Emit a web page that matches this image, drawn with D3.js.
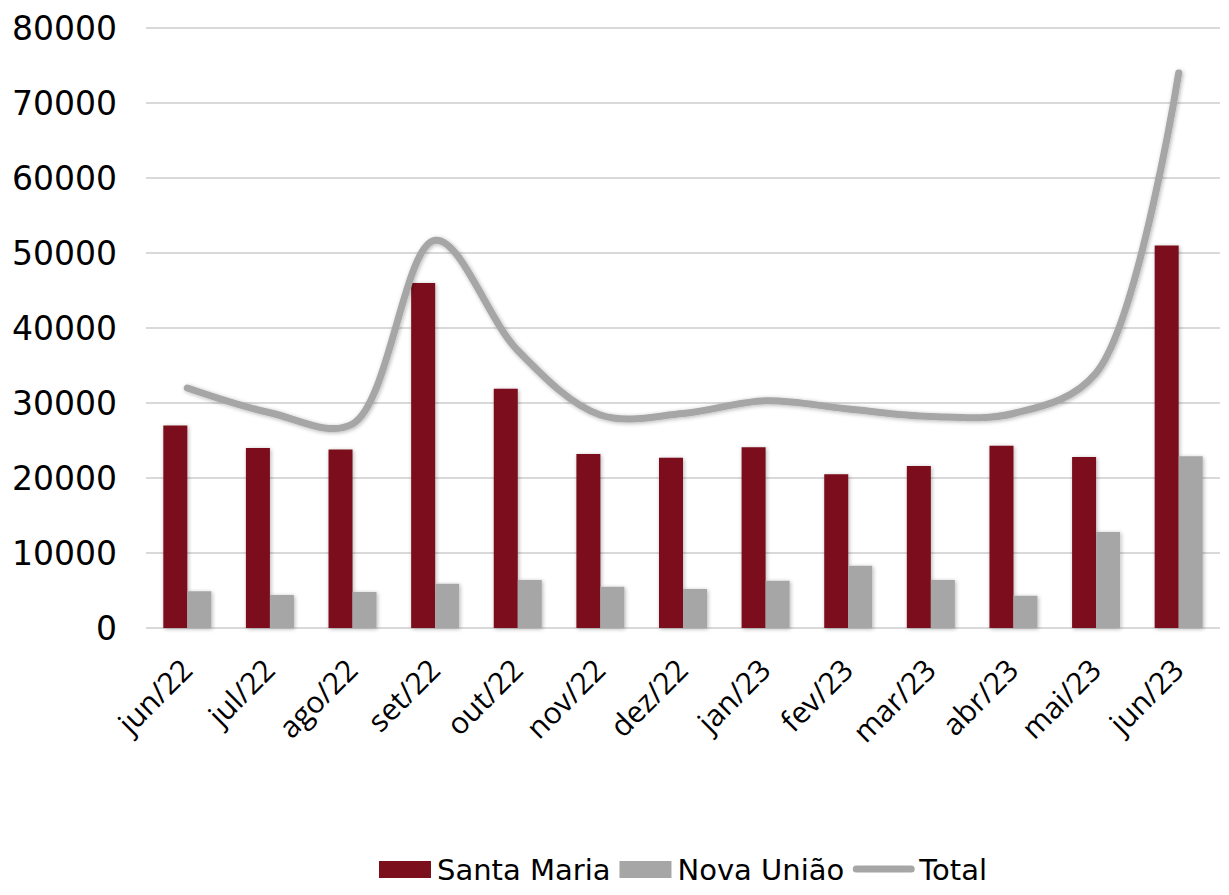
<!DOCTYPE html>
<html>
<head>
<meta charset="utf-8">
<script src="https://cdn.jsdelivr.net/npm/d3@7"></script>
<style>
  html, body { margin: 0; padding: 0; background: #fff; }
  svg { display: block; }
</style>
</head>
<body>
<svg id="chart" width="1229" height="895"></svg>
<script>
const categories = ["jun/22","jul/22","ago/22","set/22","out/22","nov/22","dez/22","jan/23","fev/23","mar/23","abr/23","mai/23","jun/23"];
const santaMaria = [27000, 24000, 23800, 46000, 31900, 23200, 22700, 24100, 20500, 21600, 24300, 22800, 51000];
const novaUniao  = [4900, 4400, 4800, 5900, 6400, 5500, 5200, 6300, 8300, 6400, 4300, 12800, 22900];
const total      = [32000, 28700, 27200, 51700, 37000, 28400, 28600, 30300, 29200, 28200, 28600, 34000, 74000];
const yTicks = [0, 10000, 20000, 30000, 40000, 50000, 60000, 70000, 80000];
const seriesNames = ["Santa Maria", "Nova União", "Total"];

(function () {
const colorRed = "#7B0F1C", colorGray = "#A6A6A6";
const svg = d3.select("#chart");
const pLeft = 146, pRight = 1220, pTop = 28, pBottom = 628;

const x = d3.scaleBand().domain(categories).range([pLeft, pRight]).paddingInner(0).paddingOuter(0);
const y = d3.scaleLinear().domain([0, 80000]).range([pBottom, pTop]);

const defs = svg.append("defs");
const f = defs.append("filter").attr("id", "shadow").attr("x", "-30%").attr("y", "-30%").attr("width", "160%").attr("height", "160%");
f.append("feGaussianBlur").attr("in", "SourceAlpha").attr("stdDeviation", 2).attr("result", "b");
f.append("feOffset").attr("in", "b").attr("dx", 1).attr("dy", 1).attr("result", "o");
f.append("feComponentTransfer").attr("in", "o").attr("result", "t")
  .append("feFuncA").attr("type", "linear").attr("slope", 0.3);
const m = f.append("feMerge");
m.append("feMergeNode").attr("in", "t");
m.append("feMergeNode").attr("in", "SourceGraphic");

// gridlines
svg.append("g").selectAll("line").data(yTicks).join("line")
  .attr("x1", pLeft).attr("x2", pRight)
  .attr("y1", d => y(d)).attr("y2", d => y(d))
  .attr("stroke", "#D9D9D9").attr("stroke-width", 2);

// y axis labels
const yAxis = d3.axisLeft(y).tickValues(yTicks).tickSize(0).tickPadding(0).tickFormat(d3.format("d"));
const gy = svg.append("g").attr("transform", `translate(117,0)`).call(yAxis);
gy.select(".domain").remove();
gy.selectAll("text").attr("font-family", "DejaVu Sans, sans-serif").attr("font-size", 33).attr("fill", "#000").attr("dy", "0.36em");

// bars
const barW = 24;
const bars = svg.append("g").attr("filter", "url(#shadow)");
bars.selectAll("rect.sm").data(santaMaria).join("rect").attr("class", "sm")
  .attr("x", (d, i) => x(categories[i]) + x.bandwidth() / 2 - barW)
  .attr("y", d => y(d)).attr("width", barW).attr("height", d => y(0) - y(d))
  .attr("fill", colorRed);
bars.selectAll("rect.nu").data(novaUniao).join("rect").attr("class", "nu")
  .attr("x", (d, i) => x(categories[i]) + x.bandwidth() / 2)
  .attr("y", d => y(d)).attr("width", barW).attr("height", d => y(0) - y(d))
  .attr("fill", colorGray);

// total line
const line = d3.line()
  .x((d, i) => x(categories[i]) + x.bandwidth() / 2)
  .y(d => y(d))
  .curve(d3.curveCatmullRom.alpha(0.5));
svg.append("path").datum(total)
  .attr("d", line).attr("fill", "none")
  .attr("stroke", colorGray).attr("stroke-width", 7)
  .attr("stroke-linecap", "round").attr("stroke-linejoin", "round")
  .attr("filter", "url(#shadow)");

// x axis labels
const xAxis = d3.axisBottom(x).tickSize(0).tickPadding(0);
const gx = svg.append("g").attr("transform", `translate(0,${pBottom})`).call(xAxis);
gx.select(".domain").remove();
gx.selectAll("text")
  .attr("font-family", "Open Sans, Noto Sans, sans-serif").attr("font-size", 30).attr("fill", "#000")
  .attr("text-anchor", "end").attr("dy", null).attr("y", 0).attr("x", 0)
  .attr("transform", "translate(7,44) rotate(-45)");

// legend
const lg = svg.append("g").attr("font-family", "DejaVu Sans, sans-serif")
  .attr("font-size", 29).attr("fill", "#000");
let cx = 379;
const baseY = 880;
seriesNames.forEach((name, i) => {
  if (i < 2) {
    lg.append("rect").attr("x", cx).attr("y", 861).attr("width", 52).attr("height", 17)
      .attr("fill", i === 0 ? colorRed : colorGray);
    cx += 58;
  } else {
    lg.append("line").attr("x1", cx + 3).attr("x2", cx + 58).attr("y1", 869).attr("y2", 869)
      .attr("stroke", colorGray).attr("stroke-width", 7).attr("stroke-linecap", "round");
    cx += 66;
  }
  const t = lg.append("text").attr("x", cx).attr("y", baseY).text(name);
  cx += t.node().getComputedTextLength() + 9;
});
})();
</script>
</body>
</html>
